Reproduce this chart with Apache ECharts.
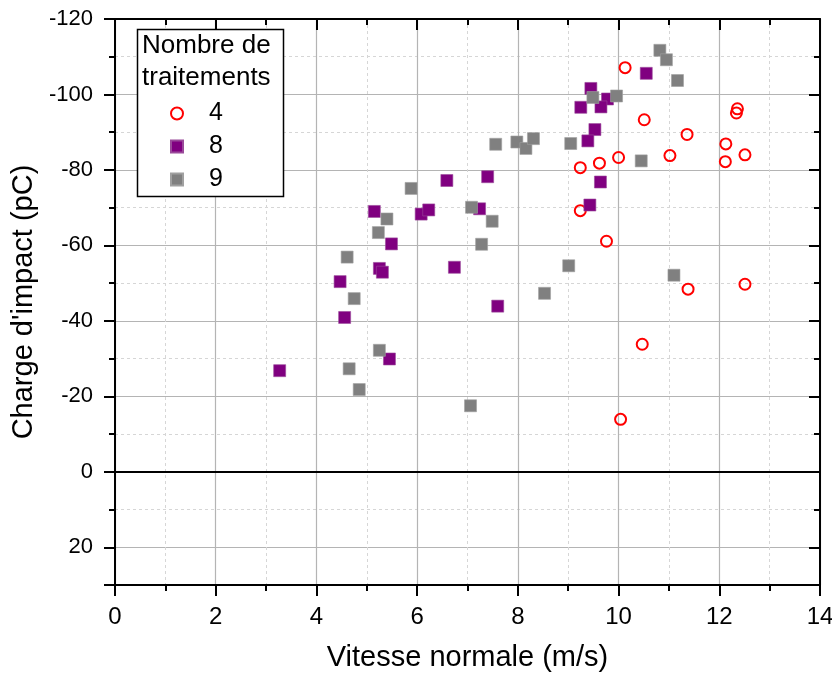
<!DOCTYPE html>
<html>
<head>
<meta charset="utf-8">
<script src="https://cdn.jsdelivr.net/npm/echarts@6/dist/echarts.min.js"></script>
<style>html,body{margin:0;padding:0;background:#fff}#c{width:832px;height:673px}</style>
</head>
<body>
<div id="c"></div>
<script>
// Series "4" (hollow red circles)
const vitesse4 = [10.13,10.51,11.36,12.36,12.34,12.13,12.51,12.12,11.02,10.00,9.62,9.24,9.24,9.76,11.38,12.51,10.47,10.04];
const charge4  = [-107.1,-93.3,-89.4,-96.2,-95.1,-86.9,-84.0,-82.2,-83.8,-83.3,-81.8,-80.6,-69.2,-61.1,-48.4,-49.7,-33.8,-13.9];
// Series "8" (purple squares)
const vitesse8 = [3.27,4.47,4.56,5.15,5.25,5.31,5.49,5.45,6.08,6.23,6.59,6.74,7.24,7.40,7.60,9.25,9.45,9.78,9.65,9.53,9.39,9.64,9.43,10.55];
const charge8  = [-26.8,-50.4,-40.9,-69.0,-53.9,-52.9,-60.4,-29.9,-68.3,-69.4,-77.2,-54.2,-69.7,-78.2,-43.9,-96.6,-101.6,-98.8,-96.7,-90.7,-87.7,-76.8,-70.7,-105.6];
// Series "9" (gray squares)
const vitesse9 = [4.61,4.75,4.65,4.85,5.25,5.23,5.40,5.88,7.06,7.08,7.28,7.49,7.56,7.98,8.16,8.31,8.53,9.01,9.05,9.49,9.96,10.45,10.82,10.95,11.10,11.17];
const charge9  = [-56.9,-45.9,-27.3,-21.8,-32.2,-63.4,-67.0,-75.1,-17.5,-70.1,-60.3,-66.4,-86.8,-87.4,-85.7,-88.3,-47.3,-54.6,-87.0,-99.2,-99.6,-82.4,-111.7,-109.2,-52.1,-103.7];

const seriesNames = ['4','8','9'];
const legendTitle = 'Nombre de\ntraitements';
const xName = 'Vitesse normale (m/s)';
const yName = "Charge d'impact (pC)";
const xMin = 0, xMax = 14, xStep = 2;
const yMin = -120, yMax = 30, yStep = 20, yMinorStep = 10;

const FONT = "'Liberation Sans', Arial, sans-serif";
const zip = (a, b) => a.map((v, i) => [v, b[i]]);

const chart = echarts.init(document.getElementById('c'), null, {renderer: 'canvas'});

const axisLineStyle = {color: '#000', width: 2};
const majorGrid = {show: true, lineStyle: {color: '#b4b4b4', width: 1.2, type: 'solid'}};

const option = {
  animation: false,
  backgroundColor: '#fff',
  grid: {left: 115, right: 12, top: 19, bottom: 88, containLabel: false, outerBoundsMode: 'none'},
  xAxis: [
    {
      type: 'value', position: 'bottom', min: xMin, max: xMax, interval: xStep,
      axisLine: {show: true, onZero: false, lineStyle: axisLineStyle},
      axisTick: {show: true, inside: false, length: 11, lineStyle: {color: '#000', width: 2}},
      minorTick: {show: true, splitNumber: 2, length: 6, lineStyle: {color: '#000', width: 2}},
      splitLine: majorGrid,
      minorSplitLine: {show: true, lineStyle: {color: '#d6d6d6', width: 1, type: [3, 3]}},
      axisLabel: {color: '#000', fontSize: 24, fontFamily: FONT, margin: 20},
      name: xName, nameLocation: 'middle', nameGap: 58,
      nameTextStyle: {color: '#000', fontSize: 29, fontFamily: FONT}
    },
    {
      type: 'value', position: 'top', min: xMin, max: xMax, interval: xStep,
      axisLine: {show: true, onZero: false, lineStyle: axisLineStyle},
      axisTick: {show: true, inside: true, length: 11, lineStyle: {color: '#000', width: 2}},
      minorTick: {show: true, splitNumber: 2, length: 6, lineStyle: {color: '#000', width: 2}},
      splitLine: {show: false},
      axisLabel: {show: false}
    }
  ],
  yAxis: [
    {
      type: 'value', position: 'left', inverse: true, min: yMin, max: yMax, interval: yStep,
      axisLine: {show: true, onZero: false, lineStyle: axisLineStyle},
      axisTick: {show: true, inside: false, length: 11, lineStyle: {color: '#000', width: 2}},
      splitLine: majorGrid,
      axisLabel: {color: '#000', fontSize: 22, fontFamily: FONT, margin: 22,
        formatter: v => (v === yMax ? '' : String(v))},
      name: yName, nameLocation: 'middle', nameGap: 76, nameRotate: 90,
      nameTextStyle: {color: '#000', fontSize: 29, fontFamily: FONT}
    },
    {
      type: 'value', position: 'left', inverse: true, min: yMin, max: yMax, interval: yMinorStep,
      axisLine: {show: false, onZero: false},
      axisTick: {show: true, inside: false, length: 6, lineStyle: {color: '#000', width: 2}},
      splitLine: {show: true, lineStyle: {color: ['rgba(0,0,0,0)', '#d6d6d6'], width: 1, type: [3, 3]}},
      axisLabel: {show: false}
    },
    {
      type: 'value', position: 'right', inverse: true, min: yMin, max: yMax, interval: yStep,
      axisLine: {show: true, onZero: false, lineStyle: axisLineStyle},
      axisTick: {show: true, inside: true, length: 11, lineStyle: {color: '#000', width: 2}},
      splitLine: {show: false},
      axisLabel: {show: false}
    },
    {
      type: 'value', position: 'right', inverse: true, min: yMin, max: yMax, interval: yMinorStep,
      axisLine: {show: false, onZero: false},
      axisTick: {show: true, inside: true, length: 6, lineStyle: {color: '#000', width: 2}},
      splitLine: {show: false},
      axisLabel: {show: false}
    }
  ],
  legend: {
    data: seriesNames,
    orient: 'vertical',
    left: 165, top: 96,
    itemWidth: 12, itemHeight: 12, itemGap: 8,
    textStyle: {color: '#000', fontSize: 25, fontFamily: FONT, padding: [0, 0, 0, 21]},
    z: 6
  },
  graphic: [
    {type: 'rect', z: 3, shape: {x: 137.5, y: 29.5, width: 146, height: 167},
     style: {fill: '#fff', stroke: '#000', lineWidth: 1.5}},
    {type: 'text', z: 5, left: 142, top: 30,
     style: {text: legendTitle, font: '26px ' + FONT, lineHeight: 32, fill: '#000'}}
  ],
  series: [
    {
      name: seriesNames[0], type: 'scatter', xAxisIndex: 0, yAxisIndex: 0,
      data: zip(vitesse4, charge4), symbol: 'circle', symbolSize: 11,
      itemStyle: {color: 'rgba(255,255,255,0)', borderColor: '#ff0000', borderWidth: 2, opacity: 1},
      markLine: {
        silent: true, symbol: ['none', 'none'], animation: false,
        label: {show: false},
        lineStyle: {color: '#000', width: 2, type: 'solid'},
        data: [{yAxis: 0}]
      }
    },
    {
      name: seriesNames[1], type: 'scatter', xAxisIndex: 0, yAxisIndex: 0,
      data: zip(vitesse8, charge8), symbol: 'rect', symbolSize: 12,
      itemStyle: {color: '#800080', borderColor: '#9a4a9a', borderWidth: 0.6, opacity: 1}
    },
    {
      name: seriesNames[2], type: 'scatter', xAxisIndex: 0, yAxisIndex: 0,
      data: zip(vitesse9, charge9), symbol: 'rect', symbolSize: 12,
      itemStyle: {color: '#808080', borderColor: '#a0a0a0', borderWidth: 0.6, opacity: 1}
    }
  ]
};
chart.setOption(option);
</script>
</body>
</html>
